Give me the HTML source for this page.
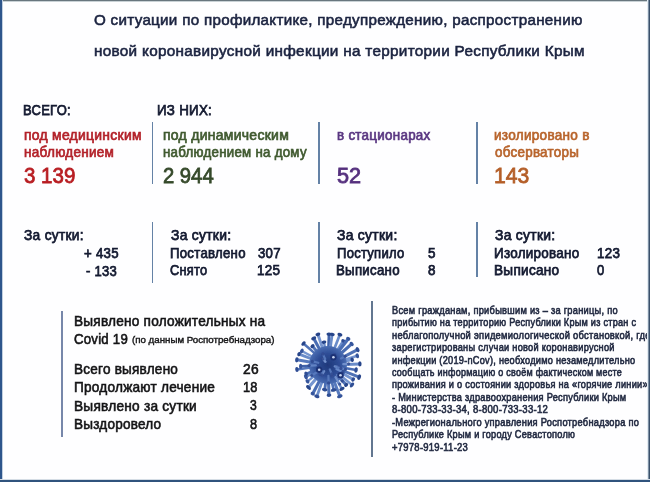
<!DOCTYPE html>
<html><head><meta charset="utf-8">
<style>
html,body{margin:0;padding:0;}
body{width:650px;height:482px;overflow:hidden;position:relative;background:#fefeff;font-family:"Liberation Sans",sans-serif;}
.t{position:absolute;white-space:nowrap;line-height:1;transform-origin:0 0;}
.vl{position:absolute;width:1.5px;background:#6482a6;}
.b{position:absolute;z-index:5;}
.v{position:absolute;left:0;top:0;}
</style></head><body>
<svg class="v" width="650" height="482" viewBox="0 0 650 482">
<defs>
<radialGradient id="vg" cx="50%" cy="50%" r="50%">
<stop offset="0" stop-color="#1f387a"/>
<stop offset="0.6" stop-color="#2e4d96"/>
<stop offset="1" stop-color="#4a6db2"/>
</radialGradient>
<filter id="bl" x="-20%" y="-20%" width="140%" height="140%"><feGaussianBlur stdDeviation="0.45"/></filter>
</defs>
<g filter="url(#bl)">
<line x1="338.0" y1="364.7" x2="359.9" y2="363.9" stroke="#6a8cc9" stroke-width="3.0"/><ellipse cx="359.9" cy="363.9" rx="1.7" ry="2.6" transform="rotate(-1.9 359.9 363.9)" fill="#28448a"/><line x1="337.8" y1="366.8" x2="356.1" y2="370.0" stroke="#4a6db3" stroke-width="2.5"/><ellipse cx="356.1" cy="370.0" rx="1.7" ry="2.7" transform="rotate(10.2 356.1 370.0)" fill="#2f4d94"/><line x1="337.3" y1="368.6" x2="359.2" y2="377.1" stroke="#5072b6" stroke-width="2.8"/><ellipse cx="359.2" cy="377.1" rx="1.7" ry="2.9" transform="rotate(21.1 359.2 377.1)" fill="#28448a"/><line x1="336.7" y1="370.0" x2="353.2" y2="379.5" stroke="#7595d0" stroke-width="3.1"/><ellipse cx="353.2" cy="379.5" rx="1.7" ry="2.3" transform="rotate(30.0 353.2 379.5)" fill="#2f4d94"/><line x1="335.7" y1="371.4" x2="352.0" y2="385.0" stroke="#7595d0" stroke-width="2.4"/><ellipse cx="352.0" cy="385.0" rx="1.7" ry="2.8" transform="rotate(39.7 352.0 385.0)" fill="#2f4d94"/><line x1="334.7" y1="372.4" x2="346.2" y2="384.9" stroke="#5072b6" stroke-width="3.2"/><ellipse cx="346.2" cy="384.9" rx="1.7" ry="2.2" transform="rotate(47.6 346.2 384.9)" fill="#28448a"/><line x1="333.0" y1="373.6" x2="341.9" y2="388.9" stroke="#6a8cc9" stroke-width="2.6"/><ellipse cx="341.9" cy="388.9" rx="1.7" ry="2.9" transform="rotate(59.9 341.9 388.9)" fill="#28448a"/><line x1="331.5" y1="374.4" x2="339.8" y2="396.3" stroke="#5679bd" stroke-width="3.0"/><ellipse cx="339.8" cy="396.3" rx="1.7" ry="2.9" transform="rotate(69.3 339.8 396.3)" fill="#36559c"/><line x1="330.2" y1="374.7" x2="333.7" y2="390.0" stroke="#5072b6" stroke-width="2.7"/><ellipse cx="333.7" cy="390.0" rx="1.7" ry="2.9" transform="rotate(77.2 333.7 390.0)" fill="#2f4d94"/><line x1="328.3" y1="375.0" x2="329.0" y2="395.2" stroke="#5072b6" stroke-width="3.1"/><ellipse cx="329.0" cy="395.2" rx="1.7" ry="2.4" transform="rotate(88.2 329.0 395.2)" fill="#2f4d94"/><line x1="326.7" y1="374.9" x2="324.7" y2="389.7" stroke="#4a6db3" stroke-width="2.9"/><ellipse cx="324.7" cy="389.7" rx="1.7" ry="2.8" transform="rotate(97.5 324.7 389.7)" fill="#2f4d94"/><line x1="324.7" y1="374.4" x2="316.9" y2="396.4" stroke="#6a8cc9" stroke-width="2.8"/><ellipse cx="316.9" cy="396.4" rx="1.7" ry="2.7" transform="rotate(109.5 316.9 396.4)" fill="#2f4d94"/><line x1="323.3" y1="373.8" x2="312.7" y2="393.7" stroke="#4a6db3" stroke-width="3.1"/><ellipse cx="312.7" cy="393.7" rx="1.7" ry="2.2" transform="rotate(118.1 312.7 393.7)" fill="#36559c"/><line x1="321.5" y1="372.6" x2="308.5" y2="387.5" stroke="#7595d0" stroke-width="3.1"/><ellipse cx="308.5" cy="387.5" rx="1.7" ry="2.9" transform="rotate(130.9 308.5 387.5)" fill="#28448a"/><line x1="320.2" y1="371.3" x2="307.5" y2="381.4" stroke="#6a8cc9" stroke-width="2.4"/><ellipse cx="307.5" cy="381.4" rx="1.7" ry="2.3" transform="rotate(141.3 307.5 381.4)" fill="#36559c"/><line x1="319.2" y1="369.7" x2="305.9" y2="376.9" stroke="#6a8cc9" stroke-width="2.6"/><ellipse cx="305.9" cy="376.9" rx="1.7" ry="2.6" transform="rotate(151.7 305.9 376.9)" fill="#36559c"/><line x1="318.7" y1="368.8" x2="306.1" y2="373.9" stroke="#4a6db3" stroke-width="2.6"/><ellipse cx="306.1" cy="373.9" rx="1.7" ry="2.4" transform="rotate(157.9 306.1 373.9)" fill="#2f4d94"/><line x1="318.1" y1="366.4" x2="296.9" y2="369.4" stroke="#5679bd" stroke-width="2.5"/><ellipse cx="296.9" cy="369.4" rx="1.7" ry="2.5" transform="rotate(172.0 296.9 369.4)" fill="#2f4d94"/><line x1="318.0" y1="365.5" x2="300.7" y2="366.3" stroke="#3f62a9" stroke-width="2.5"/><ellipse cx="300.7" cy="366.3" rx="1.7" ry="2.6" transform="rotate(177.3 300.7 366.3)" fill="#36559c"/><line x1="318.1" y1="363.4" x2="296.8" y2="359.8" stroke="#5679bd" stroke-width="3.0"/><ellipse cx="296.8" cy="359.8" rx="1.7" ry="2.6" transform="rotate(189.4 296.8 359.8)" fill="#2f4d94"/><line x1="318.6" y1="361.5" x2="299.0" y2="354.1" stroke="#6a8cc9" stroke-width="2.8"/><ellipse cx="299.0" cy="354.1" rx="1.7" ry="2.2" transform="rotate(200.6 299.0 354.1)" fill="#28448a"/><line x1="319.2" y1="360.3" x2="301.8" y2="351.0" stroke="#7595d0" stroke-width="2.4"/><ellipse cx="301.8" cy="351.0" rx="1.7" ry="2.5" transform="rotate(208.1 301.8 351.0)" fill="#36559c"/><line x1="320.5" y1="358.4" x2="303.5" y2="343.5" stroke="#5072b6" stroke-width="2.5"/><ellipse cx="303.5" cy="343.5" rx="1.7" ry="2.6" transform="rotate(221.3 303.5 343.5)" fill="#28448a"/><line x1="321.6" y1="357.3" x2="312.5" y2="346.1" stroke="#5072b6" stroke-width="3.0"/><ellipse cx="312.5" cy="346.1" rx="1.7" ry="2.3" transform="rotate(230.5 312.5 346.1)" fill="#28448a"/><line x1="323.3" y1="356.2" x2="313.7" y2="338.3" stroke="#4a6db3" stroke-width="3.1"/><ellipse cx="313.7" cy="338.3" rx="1.7" ry="2.7" transform="rotate(241.8 313.7 338.3)" fill="#28448a"/><line x1="324.9" y1="355.5" x2="317.9" y2="334.3" stroke="#7595d0" stroke-width="2.9"/><ellipse cx="317.9" cy="334.3" rx="1.7" ry="2.5" transform="rotate(251.8 317.9 334.3)" fill="#28448a"/><line x1="326.3" y1="355.1" x2="324.0" y2="342.2" stroke="#6a8cc9" stroke-width="2.4"/><ellipse cx="324.0" cy="342.2" rx="1.7" ry="2.4" transform="rotate(260.1 324.0 342.2)" fill="#28448a"/><line x1="328.3" y1="355.0" x2="329.0" y2="334.2" stroke="#3f62a9" stroke-width="2.8"/><ellipse cx="329.0" cy="334.2" rx="1.7" ry="2.6" transform="rotate(271.8 329.0 334.2)" fill="#28448a"/><line x1="329.3" y1="355.1" x2="332.1" y2="334.4" stroke="#6a8cc9" stroke-width="2.9"/><ellipse cx="332.1" cy="334.4" rx="1.7" ry="2.7" transform="rotate(277.6 332.1 334.4)" fill="#28448a"/><line x1="331.6" y1="355.7" x2="339.9" y2="334.6" stroke="#6a8cc9" stroke-width="2.7"/><ellipse cx="339.9" cy="334.6" rx="1.7" ry="2.6" transform="rotate(291.3 339.9 334.6)" fill="#28448a"/><line x1="333.4" y1="356.6" x2="343.4" y2="341.0" stroke="#6a8cc9" stroke-width="3.0"/><ellipse cx="343.4" cy="341.0" rx="1.7" ry="2.3" transform="rotate(302.7 343.4 341.0)" fill="#2f4d94"/><line x1="334.1" y1="357.1" x2="348.3" y2="338.7" stroke="#4a6db3" stroke-width="3.2"/><ellipse cx="348.3" cy="338.7" rx="1.7" ry="2.3" transform="rotate(307.6 348.3 338.7)" fill="#36559c"/><line x1="335.5" y1="358.3" x2="351.7" y2="343.9" stroke="#4a6db3" stroke-width="3.2"/><ellipse cx="351.7" cy="343.9" rx="1.7" ry="2.4" transform="rotate(318.3 351.7 343.9)" fill="#36559c"/><line x1="336.9" y1="360.4" x2="357.6" y2="349.6" stroke="#5072b6" stroke-width="3.0"/><ellipse cx="357.6" cy="349.6" rx="1.7" ry="2.7" transform="rotate(332.5 357.6 349.6)" fill="#2f4d94"/><line x1="337.5" y1="362.0" x2="357.3" y2="355.8" stroke="#7595d0" stroke-width="2.5"/><ellipse cx="357.3" cy="355.8" rx="1.7" ry="2.5" transform="rotate(342.5 357.3 355.8)" fill="#36559c"/><line x1="337.8" y1="362.9" x2="352.2" y2="359.7" stroke="#7595d0" stroke-width="2.7"/><ellipse cx="352.2" cy="359.7" rx="1.7" ry="2.3" transform="rotate(347.7 352.2 359.7)" fill="#28448a"/>
<circle cx="328.0" cy="365.0" r="19" fill="url(#vg)"/>
<line x1="339.0" y1="367.8" x2="345.4" y2="369.4" stroke="#6a8bcb" stroke-width="2.2" stroke-linecap="round" opacity="0.85"/><circle cx="345.4" cy="369.4" r="1.6" fill="#2a448a" opacity="0.8"/><line x1="343.3" y1="364.1" x2="348.6" y2="363.8" stroke="#7a98d2" stroke-width="2.2" stroke-linecap="round" opacity="0.85"/><circle cx="348.6" cy="363.8" r="1.6" fill="#2a448a" opacity="0.8"/><line x1="331.1" y1="372.9" x2="332.3" y2="376.0" stroke="#6a8bcb" stroke-width="2.2" stroke-linecap="round" opacity="0.85"/><circle cx="332.3" cy="376.0" r="1.6" fill="#2a448a" opacity="0.8"/><line x1="336.9" y1="375.1" x2="342.2" y2="381.0" stroke="#5b7dc0" stroke-width="2.2" stroke-linecap="round" opacity="0.85"/><circle cx="342.2" cy="381.0" r="1.6" fill="#2a448a" opacity="0.8"/><line x1="332.2" y1="358.5" x2="334.6" y2="354.6" stroke="#5b7dc0" stroke-width="2.2" stroke-linecap="round" opacity="0.85"/><circle cx="334.6" cy="354.6" r="1.6" fill="#2a448a" opacity="0.8"/><line x1="328.4" y1="375.9" x2="328.6" y2="382.9" stroke="#5b7dc0" stroke-width="2.2" stroke-linecap="round" opacity="0.85"/><circle cx="328.6" cy="382.9" r="1.6" fill="#2a448a" opacity="0.8"/><line x1="341.0" y1="358.4" x2="345.1" y2="356.3" stroke="#5b7dc0" stroke-width="2.2" stroke-linecap="round" opacity="0.85"/><circle cx="345.1" cy="356.3" r="1.6" fill="#2a448a" opacity="0.8"/><line x1="336.3" y1="369.1" x2="342.1" y2="372.0" stroke="#5b7dc0" stroke-width="2.2" stroke-linecap="round" opacity="0.85"/><circle cx="342.1" cy="372.0" r="1.6" fill="#2a448a" opacity="0.8"/><line x1="329.8" y1="369.4" x2="331.6" y2="373.9" stroke="#5b7dc0" stroke-width="2.2" stroke-linecap="round" opacity="0.85"/><circle cx="331.6" cy="373.9" r="1.6" fill="#2a448a" opacity="0.8"/><line x1="318.3" y1="362.8" x2="312.4" y2="361.4" stroke="#5b7dc0" stroke-width="2.2" stroke-linecap="round" opacity="0.85"/><circle cx="312.4" cy="361.4" r="1.6" fill="#2a448a" opacity="0.8"/><line x1="324.2" y1="371.2" x2="322.0" y2="374.8" stroke="#7a98d2" stroke-width="2.2" stroke-linecap="round" opacity="0.85"/><circle cx="322.0" cy="374.8" r="1.6" fill="#2a448a" opacity="0.8"/><line x1="325.4" y1="361.8" x2="322.4" y2="358.3" stroke="#5b7dc0" stroke-width="2.2" stroke-linecap="round" opacity="0.85"/><circle cx="322.4" cy="358.3" r="1.6" fill="#2a448a" opacity="0.8"/><line x1="337.2" y1="369.2" x2="342.9" y2="371.7" stroke="#6a8bcb" stroke-width="2.2" stroke-linecap="round" opacity="0.85"/><circle cx="342.9" cy="371.7" r="1.6" fill="#2a448a" opacity="0.8"/><line x1="322.7" y1="371.3" x2="320.3" y2="374.3" stroke="#5b7dc0" stroke-width="2.2" stroke-linecap="round" opacity="0.85"/><circle cx="320.3" cy="374.3" r="1.6" fill="#2a448a" opacity="0.8"/><line x1="315.8" y1="365.4" x2="309.1" y2="365.6" stroke="#6a8bcb" stroke-width="2.2" stroke-linecap="round" opacity="0.85"/><circle cx="309.1" cy="365.6" r="1.6" fill="#2a448a" opacity="0.8"/><line x1="334.7" y1="366.4" x2="338.7" y2="367.2" stroke="#7a98d2" stroke-width="2.2" stroke-linecap="round" opacity="0.85"/><circle cx="338.7" cy="367.2" r="1.6" fill="#2a448a" opacity="0.8"/><line x1="317.7" y1="371.7" x2="311.7" y2="375.5" stroke="#5b7dc0" stroke-width="2.2" stroke-linecap="round" opacity="0.85"/><circle cx="311.7" cy="375.5" r="1.6" fill="#2a448a" opacity="0.8"/><line x1="321.0" y1="368.7" x2="317.5" y2="370.5" stroke="#5b7dc0" stroke-width="2.2" stroke-linecap="round" opacity="0.85"/><circle cx="317.5" cy="370.5" r="1.6" fill="#2a448a" opacity="0.8"/><line x1="336.0" y1="367.1" x2="340.9" y2="368.4" stroke="#5b7dc0" stroke-width="2.2" stroke-linecap="round" opacity="0.85"/><circle cx="340.9" cy="368.4" r="1.6" fill="#2a448a" opacity="0.8"/><line x1="325.3" y1="361.7" x2="323.1" y2="358.9" stroke="#7a98d2" stroke-width="2.2" stroke-linecap="round" opacity="0.85"/><circle cx="323.1" cy="358.9" r="1.6" fill="#2a448a" opacity="0.8"/><line x1="335.5" y1="377.1" x2="339.7" y2="384.0" stroke="#7a98d2" stroke-width="2.2" stroke-linecap="round" opacity="0.85"/><circle cx="339.7" cy="384.0" r="1.6" fill="#2a448a" opacity="0.8"/><line x1="325.2" y1="359.0" x2="322.9" y2="354.1" stroke="#5b7dc0" stroke-width="2.2" stroke-linecap="round" opacity="0.85"/><circle cx="322.9" cy="354.1" r="1.6" fill="#2a448a" opacity="0.8"/>
<circle cx="319.2" cy="369.8" r="3.2" fill="#1d3275"/><circle cx="319.2" cy="369.8" r="1.3" fill="#c8d6f2"/><circle cx="333.4" cy="357.2" r="3.2" fill="#1d3275"/><circle cx="333.4" cy="357.2" r="1.3" fill="#c8d6f2"/><circle cx="340.5" cy="375.3" r="3.2" fill="#1d3275"/><circle cx="340.5" cy="375.3" r="1.3" fill="#c8d6f2"/>
</g>
</svg>
<div class="vl" style="left:151.8px;top:121.8px;height:62.4px;"></div>
<div class="vl" style="left:318.2px;top:122.3px;height:61.9px;"></div>
<div class="vl" style="left:476.2px;top:122.3px;height:61.9px;"></div>
<div class="vl" style="left:151.8px;top:221.6px;height:61.4px;"></div>
<div class="vl" style="left:318.2px;top:221.8px;height:61px;"></div>
<div class="vl" style="left:476.2px;top:221.6px;height:55.4px;"></div>
<div class="vl" style="left:61.1px;top:311.2px;height:125.4px;background:#7787aa;"></div>
<div class="vl" style="left:371.2px;top:301.2px;height:155.8px;background:#627690;"></div>
<div class="t" style="left:94.34px;top:12.00px;font-size:15.5px;font-weight:normal;color:#1b2340;transform:scaleX(0.9790);-webkit-text-stroke:0.6px currentColor;letter-spacing:0.3px;">О ситуации по профилактике, предупреждению, распространению</div>
<div class="t" style="left:93.88px;top:43.00px;font-size:15.5px;font-weight:normal;color:#1b2340;transform:scaleX(0.9868);-webkit-text-stroke:0.6px currentColor;letter-spacing:0.3px;">новой коронавирусной инфекции на территории Республики Крым</div>
<div class="t" style="left:22.98px;top:103.00px;font-size:14.5px;font-weight:normal;color:#141a31;transform:scaleX(0.8951);-webkit-text-stroke:0.75px currentColor;letter-spacing:0.3px;">ВСЕГО:</div>
<div class="t" style="left:157.13px;top:103.00px;font-size:14.5px;font-weight:normal;color:#141a31;transform:scaleX(0.9190);-webkit-text-stroke:0.75px currentColor;letter-spacing:0.3px;">ИЗ НИХ:</div>
<div class="t" style="left:23.65px;top:128.00px;font-size:14.5px;font-weight:normal;color:#b3222a;transform:scaleX(0.9580);-webkit-text-stroke:0.7px currentColor;letter-spacing:0.3px;">под медицинским</div>
<div class="t" style="left:23.71px;top:145.00px;font-size:14.5px;font-weight:normal;color:#b3222a;transform:scaleX(0.9327);-webkit-text-stroke:0.7px currentColor;letter-spacing:0.3px;">наблюдением</div>
<div class="t" style="left:23.94px;top:165.00px;font-size:22px;font-weight:normal;color:#b81d22;transform:scaleX(0.9317);-webkit-text-stroke:0.8px currentColor;">3 139</div>
<div class="t" style="left:163.02px;top:128.00px;font-size:14.5px;font-weight:normal;color:#405a30;transform:scaleX(0.9630);-webkit-text-stroke:0.7px currentColor;letter-spacing:0.3px;">под динамическим</div>
<div class="t" style="left:163.35px;top:145.00px;font-size:14.5px;font-weight:normal;color:#405a30;transform:scaleX(0.9150);-webkit-text-stroke:0.7px currentColor;letter-spacing:0.3px;">наблюдением на дому</div>
<div class="t" style="left:163.44px;top:165.00px;font-size:22px;font-weight:normal;color:#35492a;transform:scaleX(0.9196);-webkit-text-stroke:0.8px currentColor;">2 944</div>
<div class="t" style="left:336.89px;top:128.00px;font-size:14.5px;font-weight:normal;color:#5a3782;transform:scaleX(0.9231);-webkit-text-stroke:0.7px currentColor;letter-spacing:0.3px;">в стационарах</div>
<div class="t" style="left:336.91px;top:165.00px;font-size:22px;font-weight:normal;color:#55307e;transform:scaleX(0.9862);-webkit-text-stroke:0.8px currentColor;">52</div>
<div class="t" style="left:494.32px;top:128.00px;font-size:14.5px;font-weight:normal;color:#b8642c;transform:scaleX(0.9347);-webkit-text-stroke:0.7px currentColor;letter-spacing:0.3px;">изолировано в</div>
<div class="t" style="left:494.58px;top:145.00px;font-size:14.5px;font-weight:normal;color:#b8642c;transform:scaleX(0.9223);-webkit-text-stroke:0.7px currentColor;letter-spacing:0.3px;">обсерваторы</div>
<div class="t" style="left:493.90px;top:165.00px;font-size:22px;font-weight:normal;color:#b45e28;transform:scaleX(0.9613);-webkit-text-stroke:0.8px currentColor;">143</div>
<div class="t" style="left:24.45px;top:228.00px;font-size:14.5px;font-weight:normal;color:#141a31;transform:scaleX(0.9487);-webkit-text-stroke:0.75px currentColor;letter-spacing:0.3px;">За сутки:</div>
<div class="t" style="left:83.90px;top:246.00px;font-size:14.5px;font-weight:normal;color:#141a31;transform:scaleX(0.9124);-webkit-text-stroke:0.75px currentColor;letter-spacing:0.3px;">+ 435</div>
<div class="t" style="left:85.66px;top:264.00px;font-size:14.5px;font-weight:normal;color:#141a31;transform:scaleX(0.8984);-webkit-text-stroke:0.75px currentColor;letter-spacing:0.3px;">- 133</div>
<div class="t" style="left:170.67px;top:228.00px;font-size:14.5px;font-weight:normal;color:#141a31;transform:scaleX(0.9557);-webkit-text-stroke:0.75px currentColor;letter-spacing:0.3px;">За сутки:</div>
<div class="t" style="left:170.09px;top:246.00px;font-size:14.5px;font-weight:normal;color:#141a31;transform:scaleX(0.9101);-webkit-text-stroke:0.75px currentColor;letter-spacing:0.3px;">Поставлено</div>
<div class="t" style="left:257.73px;top:246.00px;font-size:14.5px;font-weight:normal;color:#141a31;transform:scaleX(0.9099);-webkit-text-stroke:0.75px currentColor;letter-spacing:0.3px;">307</div>
<div class="t" style="left:170.12px;top:263.00px;font-size:14.5px;font-weight:normal;color:#141a31;transform:scaleX(0.8824);-webkit-text-stroke:0.75px currentColor;letter-spacing:0.3px;">Снято</div>
<div class="t" style="left:257.39px;top:263.00px;font-size:14.5px;font-weight:normal;color:#141a31;transform:scaleX(0.9286);-webkit-text-stroke:0.75px currentColor;letter-spacing:0.3px;">125</div>
<div class="t" style="left:337.25px;top:228.00px;font-size:14.5px;font-weight:normal;color:#141a31;transform:scaleX(0.9585);-webkit-text-stroke:0.75px currentColor;letter-spacing:0.3px;">За сутки:</div>
<div class="t" style="left:336.76px;top:246.00px;font-size:14.5px;font-weight:normal;color:#141a31;transform:scaleX(0.8988);-webkit-text-stroke:0.75px currentColor;letter-spacing:0.3px;">Поступило</div>
<div class="t" style="left:428.03px;top:246.00px;font-size:14.5px;font-weight:normal;color:#141a31;transform:scaleX(0.9269);-webkit-text-stroke:0.75px currentColor;letter-spacing:0.3px;">5</div>
<div class="t" style="left:336.24px;top:263.00px;font-size:14.5px;font-weight:normal;color:#141a31;transform:scaleX(0.9142);-webkit-text-stroke:0.75px currentColor;letter-spacing:0.3px;">Выписано</div>
<div class="t" style="left:428.09px;top:263.00px;font-size:14.5px;font-weight:normal;color:#141a31;transform:scaleX(0.9233);-webkit-text-stroke:0.75px currentColor;letter-spacing:0.3px;">8</div>
<div class="t" style="left:494.83px;top:228.00px;font-size:14.5px;font-weight:normal;color:#141a31;transform:scaleX(0.9568);-webkit-text-stroke:0.75px currentColor;letter-spacing:0.3px;">За сутки:</div>
<div class="t" style="left:494.14px;top:246.00px;font-size:14.5px;font-weight:normal;color:#141a31;transform:scaleX(0.9261);-webkit-text-stroke:0.75px currentColor;letter-spacing:0.3px;">Изолировано</div>
<div class="t" style="left:597.19px;top:246.00px;font-size:14.5px;font-weight:normal;color:#141a31;transform:scaleX(0.9241);-webkit-text-stroke:0.75px currentColor;letter-spacing:0.3px;">123</div>
<div class="t" style="left:494.12px;top:263.00px;font-size:14.5px;font-weight:normal;color:#141a31;transform:scaleX(0.9366);-webkit-text-stroke:0.75px currentColor;letter-spacing:0.3px;">Выписано</div>
<div class="t" style="left:596.95px;top:263.00px;font-size:14.5px;font-weight:normal;color:#141a31;transform:scaleX(0.8999);-webkit-text-stroke:0.75px currentColor;letter-spacing:0.3px;">0</div>
<div class="t" style="left:73.68px;top:314.00px;font-size:14.5px;font-weight:normal;color:#141416;transform:scaleX(0.9383);-webkit-text-stroke:0.6px currentColor;letter-spacing:0.25px;">Выявлено положительных на</div>
<div class="t" style="left:74.22px;top:332.00px;font-size:14.5px;font-weight:normal;color:#141416;transform:scaleX(0.9109);-webkit-text-stroke:0.6px currentColor;letter-spacing:0.25px;">Covid 19</div>
<div class="t" style="left:131.75px;top:335.00px;font-size:9.6px;font-weight:normal;color:#141416;transform:scaleX(1.0125);-webkit-text-stroke:0.4px currentColor;">(по данным Роспотребнадзора)</div>
<div class="t" style="left:74.18px;top:362.00px;font-size:14.5px;font-weight:normal;color:#141416;transform:scaleX(0.9337);-webkit-text-stroke:0.6px currentColor;letter-spacing:0.25px;">Всего выявлено</div>
<div class="t" style="left:74.10px;top:380.00px;font-size:14.5px;font-weight:normal;color:#141416;transform:scaleX(0.9392);-webkit-text-stroke:0.6px currentColor;letter-spacing:0.25px;">Продолжают лечение</div>
<div class="t" style="left:74.32px;top:399.00px;font-size:14.5px;font-weight:normal;color:#141416;transform:scaleX(0.9421);-webkit-text-stroke:0.6px currentColor;letter-spacing:0.25px;">Выявлено за сутки</div>
<div class="t" style="left:74.34px;top:417.00px;font-size:14.5px;font-weight:normal;color:#141416;transform:scaleX(0.9329);-webkit-text-stroke:0.6px currentColor;letter-spacing:0.25px;">Выздоровело</div>
<div class="t" style="left:243.28px;top:362.00px;font-size:14.5px;font-weight:normal;color:#141416;transform:scaleX(0.9525);-webkit-text-stroke:0.6px currentColor;letter-spacing:0.25px;">26</div>
<div class="t" style="left:243.22px;top:380.00px;font-size:14.5px;font-weight:normal;color:#141416;transform:scaleX(0.8829);-webkit-text-stroke:0.6px currentColor;letter-spacing:0.25px;">18</div>
<div class="t" style="left:249.90px;top:398.00px;font-size:14.5px;font-weight:normal;color:#141416;transform:scaleX(0.8375);-webkit-text-stroke:0.6px currentColor;letter-spacing:0.25px;">3</div>
<div class="t" style="left:249.90px;top:417.00px;font-size:14.5px;font-weight:normal;color:#141416;transform:scaleX(0.8750);-webkit-text-stroke:0.6px currentColor;letter-spacing:0.25px;">8</div>
<div class="t" style="left:391.62px;top:305.00px;font-size:10.8px;font-weight:normal;color:#222a42;transform:scaleX(0.8598);-webkit-text-stroke:0.6px currentColor;letter-spacing:0.3px;">Всем гражданам, прибывшим из – за границы, по</div>
<div class="t" style="left:392.03px;top:317.00px;font-size:10.8px;font-weight:normal;color:#222a42;transform:scaleX(0.8457);-webkit-text-stroke:0.6px currentColor;letter-spacing:0.3px;">прибытию на территорию Республики Крым из стран с</div>
<div class="t" style="left:391.86px;top:330.00px;font-size:10.8px;font-weight:normal;color:#222a42;transform:scaleX(0.8695);-webkit-text-stroke:0.6px currentColor;letter-spacing:0.3px;">неблагополучной эпидемиологической обстановкой, где</div>
<div class="t" style="left:392.48px;top:342.00px;font-size:10.8px;font-weight:normal;color:#222a42;transform:scaleX(0.8554);-webkit-text-stroke:0.6px currentColor;letter-spacing:0.3px;">зарегистрированы случаи новой коронавирусной</div>
<div class="t" style="left:392.04px;top:355.00px;font-size:10.8px;font-weight:normal;color:#222a42;transform:scaleX(0.8521);-webkit-text-stroke:0.6px currentColor;letter-spacing:0.3px;">инфекции (2019-nCov), необходимо незамедлительно</div>
<div class="t" style="left:392.45px;top:367.00px;font-size:10.8px;font-weight:normal;color:#222a42;transform:scaleX(0.8331);-webkit-text-stroke:0.6px currentColor;letter-spacing:0.3px;">сообщать информацию о своём фактическом месте</div>
<div class="t" style="left:392.02px;top:379.00px;font-size:10.8px;font-weight:normal;color:#222a42;transform:scaleX(0.8516);-webkit-text-stroke:0.6px currentColor;letter-spacing:0.3px;">проживания и о состоянии здоровья на «горячие линии»</div>
<div class="t" style="left:392.45px;top:392.00px;font-size:10.8px;font-weight:normal;color:#222a42;transform:scaleX(0.8554);-webkit-text-stroke:0.6px currentColor;letter-spacing:0.3px;">- Министерства здравоохранения Республики Крым</div>
<div class="t" style="left:392.16px;top:404.00px;font-size:10.8px;font-weight:normal;color:#222a42;transform:scaleX(0.8844);-webkit-text-stroke:0.6px currentColor;letter-spacing:0.3px;">8-800-733-33-34, 8-800-733-33-12</div>
<div class="t" style="left:392.45px;top:417.00px;font-size:10.8px;font-weight:normal;color:#222a42;transform:scaleX(0.8600);-webkit-text-stroke:0.6px currentColor;letter-spacing:0.3px;">-Межрегионального управления Роспотребнадзора по</div>
<div class="t" style="left:391.63px;top:429.00px;font-size:10.8px;font-weight:normal;color:#222a42;transform:scaleX(0.8500);-webkit-text-stroke:0.6px currentColor;letter-spacing:0.3px;">Республике Крым и городу Севастополю</div>
<div class="t" style="left:392.25px;top:442.00px;font-size:10.8px;font-weight:normal;color:#222a42;transform:scaleX(0.8765);-webkit-text-stroke:0.6px currentColor;letter-spacing:0.3px;">+7978-919-11-23</div>
<div class="b" style="left:0;top:0;width:650px;height:1px;background:#68767e;"></div>
<div class="b" style="left:0;top:1px;width:650px;height:1px;background:#c9d2d6;"></div>
<div class="b" style="left:0;top:0;width:2px;height:482px;background:#2e568c;"></div>
<div class="b" style="left:2px;top:0;width:1px;height:482px;background:#c2d0e0;"></div>
<div class="b" style="left:647px;top:0;width:1px;height:482px;background:#e4ecf2;"></div>
<div class="b" style="left:648px;top:0;width:1px;height:482px;background:#7f91a5;"></div>
<div class="b" style="left:649px;top:0;width:1px;height:482px;background:#3a516b;"></div>
<div class="b" style="left:0;top:479px;width:650px;height:1px;background:#d5dde5;"></div>
<div class="b" style="left:0;top:480px;width:650px;height:2px;background:#30537d;"></div>
</body></html>
